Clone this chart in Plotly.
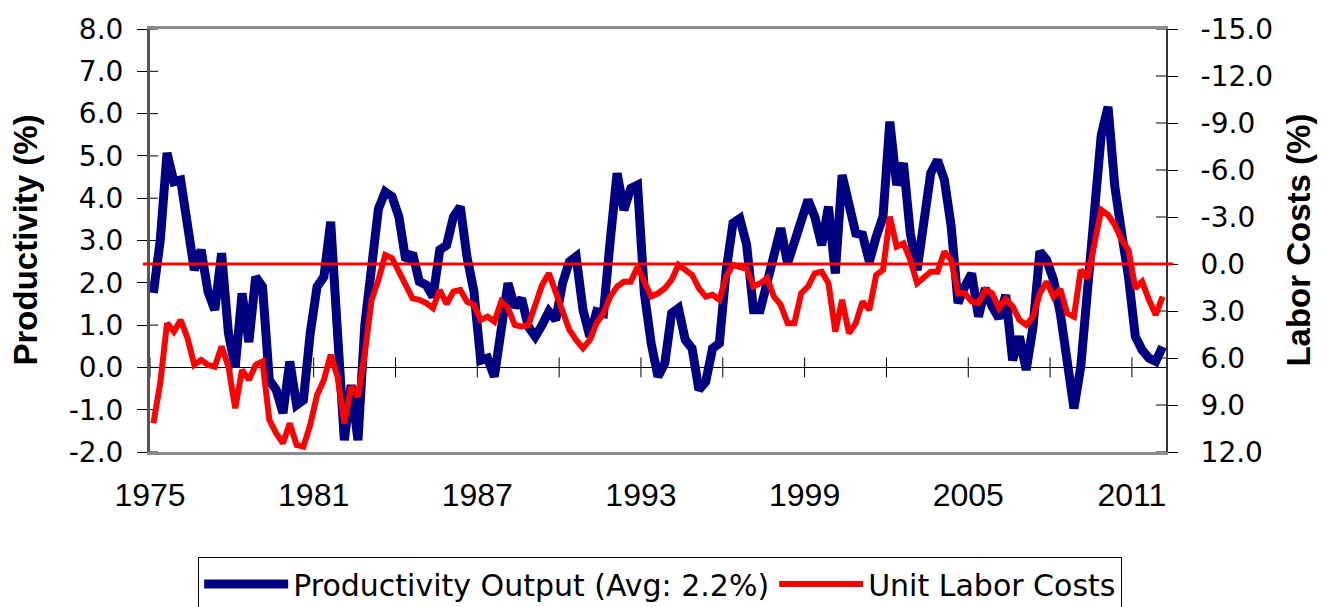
import plotly.graph_objects as go

# Quarterly series, 1975 Q1 through 2012 Q1
start_year = 1975
productivity = [
    1.76, 3.0, 5.07, 4.39, 4.43, 3.33, 2.30, 2.78, 1.79, 1.36,
    2.70, 0.81, 0.0, 1.75, 0.6, 2.14, 1.91, -0.30, -0.53, -1.08,
    0.14, -0.89, -0.77, 0.81, 1.91, 2.14, 3.44, 0.81, -1.72, -0.42,
    -1.72, 1.0, 2.6, 3.75, 4.15, 4.04, 3.56, 2.54, 2.70, 2.03,
    1.95, 1.67, 2.78, 2.89, 3.56, 3.80, 2.6, 1.8, 0.17, 0.22,
    -0.22, 0.81, 1.99, 1.43, 1.63, 0.96, 0.73, 1.0, 1.32, 1.12,
    1.99, 2.5, 2.62, 1.36, 0.73, 1.32, 1.28, 3.01, 4.59, 3.72,
    4.23, 4.31, 1.75, 0.57, -0.22, 0.10, 1.28, 1.40, 0.65, 0.45,
    -0.53, -0.34, 0.45, 0.57, 2.30, 3.41, 3.52, 2.9, 1.36, 1.36,
    2.07, 2.62, 3.29, 2.46, 3.01, 3.41, 3.96, 3.56, 2.89, 3.80,
    2.22, 4.55, 3.72, 3.17, 3.13, 2.50, 3.09, 3.56, 5.81, 4.31,
    4.83, 3.17, 2.30, 3.64, 4.59, 4.90, 4.43, 3.33, 1.52, 1.91,
    2.22, 1.20, 1.87, 1.44, 1.16, 1.71, 0.17, 0.73, -0.06, 0.96,
    2.74, 2.54, 2.07, 1.28, 0.17, -0.97, 0.02, 1.75, 3.88, 5.49,
    6.16, 4.27, 3.17, 2.14, 0.73, 0.41, 0.22, 0.14, 0.49,
]
unit_labor_costs = [
    10.17, 7.61, 3.78, 4.32, 3.57, 4.74, 6.44, 6.12, 6.44, 6.55,
    5.27, 6.55, 9.21, 6.76, 7.40, 6.44, 6.23, 9.95, 10.80, 11.44,
    10.17, 11.55, 11.66, 10.27, 8.36, 7.40, 5.80, 7.19, 10.17, 7.83,
    8.47, 5.70, 2.29, 1.02, -0.58, -0.37, 0.49, 1.44, 2.19, 2.29,
    2.50, 2.82, 1.66, 2.55, 1.76, 1.66, 2.40, 2.61, 3.57, 3.36,
    3.68, 2.40, 2.82, 3.89, 4.0, 3.89, 2.50, 1.34, 0.59, 1.87,
    3.14, 4.21, 4.85, 5.38, 4.85, 3.78, 3.14, 2.08, 1.44, 1.13,
    1.13, 0.17, 1.13, 2.08, 1.87, 1.55, 1.02, 0.06, 0.38, 0.70,
    1.55, 2.08, 1.97, 2.29, 0.81, 0.06, 0.2, 0.3, 1.44, 1.23,
    0.9, 2.08, 2.61, 3.78, 3.78, 1.87, 1.44, 0.59, 0.49, 1.23,
    4.32, 2.29, 4.42, 3.78, 2.40, 2.93, 0.70, 0.38, -3.02, -1.11,
    -1.32, -0.26, 1.23, 0.81, 0.49, 0.49, -0.79, -0.26, 1.87, 1.87,
    2.40, 2.50, 1.66, 1.87, 2.82, 2.24, 2.7, 3.57, 3.89, 3.36,
    1.87, 1.13, 2.08, 1.6, 3.14, 3.36, 0.38, 0.91, -1.53, -3.45,
    -3.13, -2.49, -1.53, -0.90, 1.55, 1.13, 2.29, 3.25, 2.08,
]
year_labels = [1975, 1981, 1987, 1993, 1999, 2005, 2011]
minor_ticks = list(range(1975, 2012, 3))
left_ticks = list(range(-2, 9))
right_ticks = list(range(-15, 13, 3))

# each quarter sits in the middle of its category slot
x_vals = [start_year + (i + 0.5) / 4 for i in range(len(productivity))]
x_range = [start_year, start_year + len(productivity) / 4]

NAVY = "#000080"
RED = "#FF0000"
SANS = "Liberation Sans, Arial, sans-serif"
WIDE = "DejaVu Sans, sans-serif"


def fmt(v):
    # plain hyphen for negatives
    return f"{v:.1f}"


fig = go.Figure()
fig.add_trace(go.Scatter(
    x=x_vals, y=productivity, mode="lines", name="Productivity Output (Avg: 2.2%)",
    line=dict(color=NAVY, width=9), xaxis="x", yaxis="y",
))
fig.add_trace(go.Scatter(
    x=x_vals, y=unit_labor_costs, mode="lines", name="Unit Labor Costs",
    line=dict(color=RED, width=6), xaxis="x", yaxis="y2",
))

# zero reference of the labour-cost axis
fig.add_shape(type="line", xref="paper", yref="y2", x0=-0.007, x1=1.007, y0=0, y1=0,
              line=dict(color=RED, width=3), layer="above")

# category tick marks crossing the zero line of the productivity axis
for yr in minor_ticks:
    fig.add_shape(type="line", xref="x", yref="y", ysizemode="pixel", yanchor=0,
                  x0=yr, x1=yr, y0=-10, y1=10, line=dict(color="black", width=1),
                  layer="below")
# inner halves of the value-axis tick marks
for v in left_ticks:
    fig.add_shape(type="line", xref="paper", xsizemode="pixel", xanchor=0, yref="y",
                  x0=0, x1=8, y0=v, y1=v, line=dict(color="black", width=1), layer="below")
for v in right_ticks:
    fig.add_shape(type="line", xref="paper", xsizemode="pixel", xanchor=1, yref="y2",
                  x0=-10, x1=0, y0=v, y1=v, line=dict(color="black", width=1), layer="below")

tick_font_y = dict(family=WIDE, size=28, color="black")

fig.update_layout(
    width=1323, height=607,
    margin=dict(l=150, r=157, t=29, b=155, autoexpand=False),
    paper_bgcolor="white", plot_bgcolor="white",
    showlegend=True,
    legend=dict(
        orientation="h", xref="container", yref="container",
        x=0.499, xanchor="center", y=(607 - 557) / 607, yanchor="top",
        bordercolor="black", borderwidth=1, font=dict(family=WIDE, size=30, color="black"),
        itemwidth=84, tracegroupgap=0,
    ),
    xaxis=dict(
        range=x_range, tickvals=year_labels, ticktext=[str(v) for v in year_labels],
        ticks="", showgrid=False, zeroline=False, ticklabelstandoff=13,
        showline=True, linecolor="#8c8c8c", linewidth=3, mirror=True,
        tickfont=dict(family=SANS, size=32, color="black"),
    ),
    yaxis=dict(
        range=[-2, 8], tickvals=left_ticks, ticktext=[fmt(v) for v in left_ticks],
        ticks="outside", ticklen=10, tickcolor="black", tickwidth=1, ticklabelstandoff=8,
        showgrid=False, zeroline=True, zerolinecolor="black", zerolinewidth=1,
        showline=True, linecolor="#555555", linewidth=3,
        tickfont=tick_font_y,
    ),
    yaxis2=dict(
        range=[12, -15], tickvals=right_ticks, ticktext=[fmt(v) for v in right_ticks],
        overlaying="y", side="right", anchor="x",
        ticks="outside", ticklen=10, tickcolor="black", tickwidth=1, ticklabelstandoff=17,
        showgrid=False, zeroline=False, showline=True, linecolor="#333333", linewidth=2,
        tickfont=tick_font_y,
    ),
    annotations=[
        dict(text="<b>Productivity (%)</b>", xref="paper", yref="paper", x=-0.123, y=0.5,
             textangle=-90, showarrow=False, xanchor="center", yanchor="middle",
             font=dict(family=SANS, size=33, color="black")),
        dict(text="<b>Labor Costs (%)</b>", xref="paper", yref="paper", x=1.130, y=0.5,
             textangle=-90, showarrow=False, xanchor="center", yanchor="middle",
             font=dict(family=SANS, size=33, color="black")),
    ],
)

fig.write_html("out.html")
